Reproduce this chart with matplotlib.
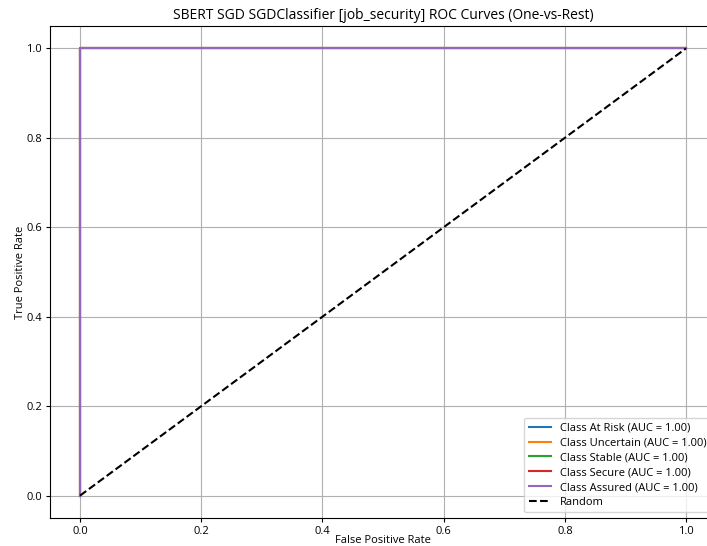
import matplotlib
matplotlib.use('Agg')
import matplotlib.pyplot as plt

plt.rcParams['font.family'] = ['Open Sans', 'DejaVu Sans']

# ROC points per class (fpr, tpr)
class_names = ['At Risk', 'Uncertain', 'Stable', 'Secure', 'Assured']
class_auc = [1.00, 1.00, 1.00, 1.00, 1.00]
fpr = [0.0, 0.0, 1.0]
tpr = [0.0, 1.0, 1.0]
colors = ['#1f77b4', '#ff7f0e', '#2ca02c', '#d62728', '#9467bd']

fig = plt.figure(figsize=(7.07, 5.46), dpi=100)
ax = fig.add_axes([0.0703, 0.0513, 0.943, 0.9011])

for name, auc, c in zip(class_names, class_auc, colors):
    ax.plot(fpr, tpr, color=c, lw=1.5, label=f'Class {name} (AUC = {auc:.2f})')
ax.plot([0, 1], [0, 1], 'k--', lw=1.5, label='Random')

ax.set_xlabel('False Positive Rate', fontsize=8, labelpad=-1)
ax.set_ylabel('True Positive Rate', fontsize=8, labelpad=0)
ax.set_title('SBERT SGD SGDClassifier [job_security] ROC Curves (One-vs-Rest)', fontsize=10, pad=5)
ax.tick_params(labelsize=8, length=3, pad=2.5)
ax.grid(True)
ax.legend(loc='lower right', fontsize=8, labelspacing=0.35)

fig.savefig('out.png', dpi=100)
